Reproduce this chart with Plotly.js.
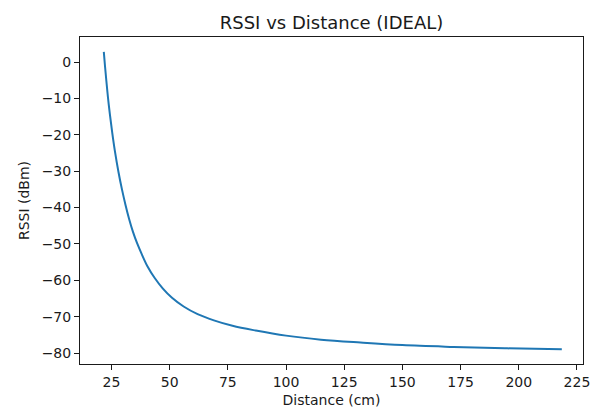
<!DOCTYPE html>
<html>
<head>
<meta charset="utf-8">
<script src="https://cdn.plot.ly/plotly-3.0.1.min.js"></script>
<style>html,body{margin:0;padding:0;background:#fff;}#chart{width:595px;height:411px;}</style>
</head>
<body>
<div id="chart"></div>
<script>
const distance = [21.7, 22.2, 22.8, 23.5, 24.3, 25.3, 26.5, 28.0, 29.5, 31.0, 32.6, 34.2, 36.0, 38.0, 40.5, 43.5, 47.0, 51.0, 56.0, 62.0, 69.0, 77.0, 87.0, 100.0, 115.0, 132.0, 150.0, 172.0, 195.0, 218.5];
const rssi = [2.8, -1.0, -5.2, -9.8, -14.3, -19.3, -24.6, -30.2, -35.0, -39.2, -43.2, -46.6, -49.8, -52.8, -56.2, -59.3, -62.2, -64.8, -67.2, -69.3, -71.0, -72.5, -73.8, -75.2, -76.3, -77.1, -77.8, -78.3, -78.7, -78.95];
const xTicks = [25, 50, 75, 100, 125, 150, 175, 200, 225];
const yTicks = [0, -10, -20, -30, -40, -50, -60, -70, -80];

const txt = '#1a1a1a';
const fam = 'DejaVu Sans, sans-serif';
const axisCommon = {
  showline: true, mirror: true, linecolor: txt, linewidth: 1,
  ticks: 'outside', ticklen: 5, tickwidth: 1, tickcolor: txt,
  showgrid: false, zeroline: false, tickfont: {family: fam, size: 14, color: txt}
};
const trace = {
  x: distance, y: rssi, type: 'scatter', mode: 'lines',
  line: {color: '#1f77b4', width: 2, shape: 'spline', smoothing: 1},
  hoverinfo: 'skip'
};
const layout = {
  width: 595, height: 411,
  margin: {l: 80, r: 12, t: 37, b: 47},
  paper_bgcolor: '#fff', plot_bgcolor: '#fff',
  font: {family: fam, size: 14, color: txt},
  showlegend: false,
  title: {text: 'RSSI vs Distance (IDEAL)', font: {family: fam, size: 18, color: txt},
          x: 0.5, xref: 'paper', xanchor: 'center', y: 1 - 23/411, yref: 'container', yanchor: 'middle'},
  xaxis: Object.assign({}, axisCommon, {
    range: [11.47, 227.6], tickvals: xTicks, ticktext: xTicks.map(String),
    title: {text: 'Distance (cm)', font: {family: fam, size: 14, color: txt}, standoff: 6}
  }),
  yaxis: Object.assign({}, axisCommon, {
    range: [-83.0, 6.9], tickvals: yTicks, ticktext: yTicks.map(v => v < 0 ? '\u2212' + Math.abs(v) : String(v)),
    title: {text: 'RSSI (dBm)', font: {family: fam, size: 14, color: txt}, standoff: 8}
  })
};
Plotly.newPlot('chart', [trace], layout, {staticPlot: true, displayModeBar: false});
</script>
</body>
</html>
